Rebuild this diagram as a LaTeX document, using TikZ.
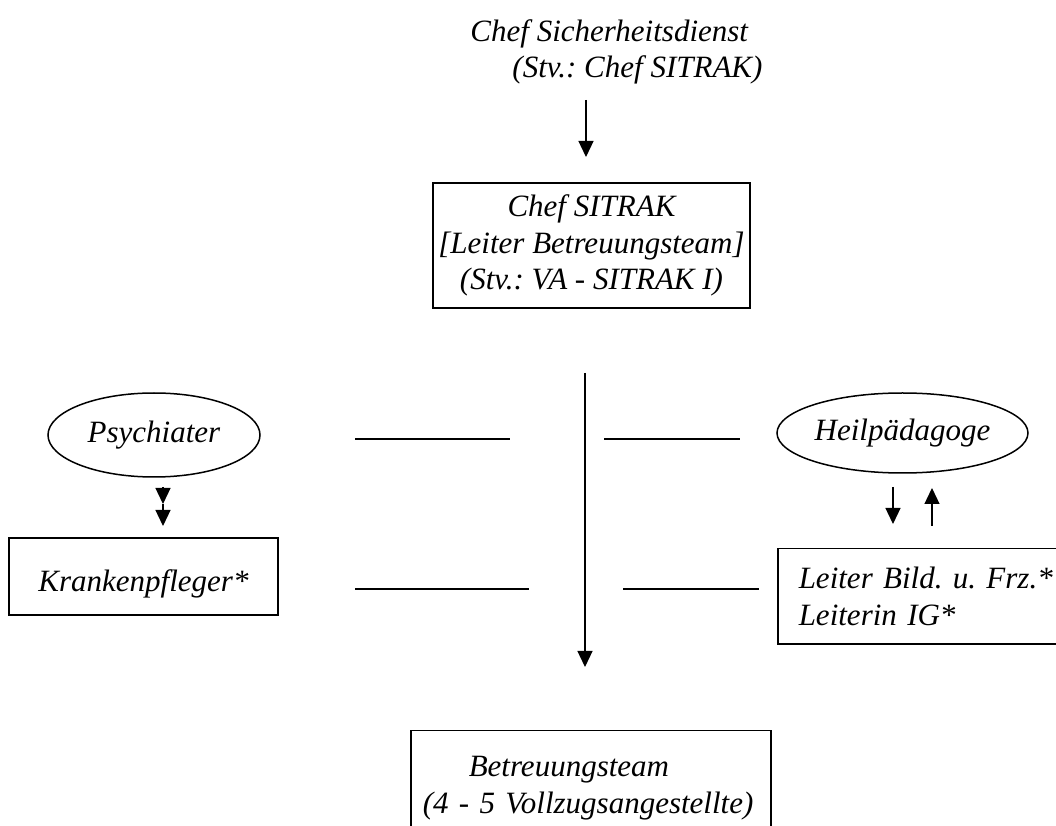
\documentclass[tikz,border=0pt]{standalone}
\usepackage{fontspec}
\setmainfont{Liberation Serif}
\usetikzlibrary{shapes.geometric,arrows.meta}
\frenchspacing

\tikzset{
  txt/.style={font=\fontsize{12.4}{14.6}\selectfont\itshape, inner sep=0pt},
  box/.style={txt, draw, line width=0.6pt},
  oval/.style={txt, draw, ellipse, line width=0.6pt},
  arr/.style={-{Triangle[length=6.4pt,width=6pt]}, line width=0.5pt},
  rule/.style={line width=0.6pt}
}

\begin{document}
\begin{tikzpicture}[x=0.4pt,y=-0.4pt]
    \useasboundingbox (0,0) rectangle (1056,826);

    \node[txt, anchor=north west, align=left] (sd) at (470,19) {Chef Sicherheitsdienst\\\hspace*{16.8pt}(Stv.: Chef SITRAK)};
    \node[box, minimum width=126.8pt, minimum height=50pt, align=center] (chef) at (591.5,245.5) {Chef SITRAK\\{[}Leiter Betreuungsteam{]}\\(Stv.: VA - SITRAK I)};
    \node[oval, minimum width=84.8pt, minimum height=33.6pt] (psy) at (154,435) {Psychiater};
    \node[oval, minimum width=100.4pt, minimum height=32pt] (heil) at (902.5,433) {Heilpädagoge};
    \node[box, minimum width=107.6pt, minimum height=30.8pt, text height=12pt, text depth=0pt] (kpf) at (143.5,576.5) {Krankenpfleger*};
    \node[box, anchor=north west, inner xsep=8.4pt, text width=110pt, minimum height=38pt, align=left] (leiter) at (777,548) {Leiter Bild. u. Frz.*\\Leiterin IG*};
    \node[box, anchor=north west, inner xsep=4.8pt, text width=134.4pt, minimum height=46pt, align=left] (team) at (410,730) {\hspace*{18.4pt}Betreuungsteam\\(4 - 5 Vollzugsangestellte)};

    \coordinate (sd-out) at (586,100);
    \coordinate (chef-in) at (586,157);
    \coordinate (chef-out) at (585,373);
    \coordinate (team-in) at (585,667);
    \coordinate (psy-out) at (163,487);
    \coordinate (psy-mid) at (163,504);
    \coordinate (kpf-in) at (163,526);
    \coordinate (heil-out) at (893,487);
    \coordinate (leiter-in) at (893,524);
    \coordinate (leiter-out) at (932,526);
    \coordinate (heil-in) at (932,488);

    %%%%%%%%%%%%%%%%%%%%%%%%%%%%%%%%%%%%%%%%

    \draw[arr] (sd-out) -- (chef-in);
    \draw[arr] (chef-out) -- (team-in);
    \draw[arr] (psy-out) -- (psy-mid);
    \draw[arr] (psy-mid) -- (kpf-in);
    \draw[arr] (heil-out) -- (leiter-in);
    \draw[arr] (leiter-out) -- (heil-in);

    \draw[rule] (355,439) -- (510,439);
    \draw[rule] (604,439) -- (740,439);
    \draw[rule] (355,589) -- (529,589);
    \draw[rule] (623,589) -- (759,589);

\end{tikzpicture}
\end{document}
